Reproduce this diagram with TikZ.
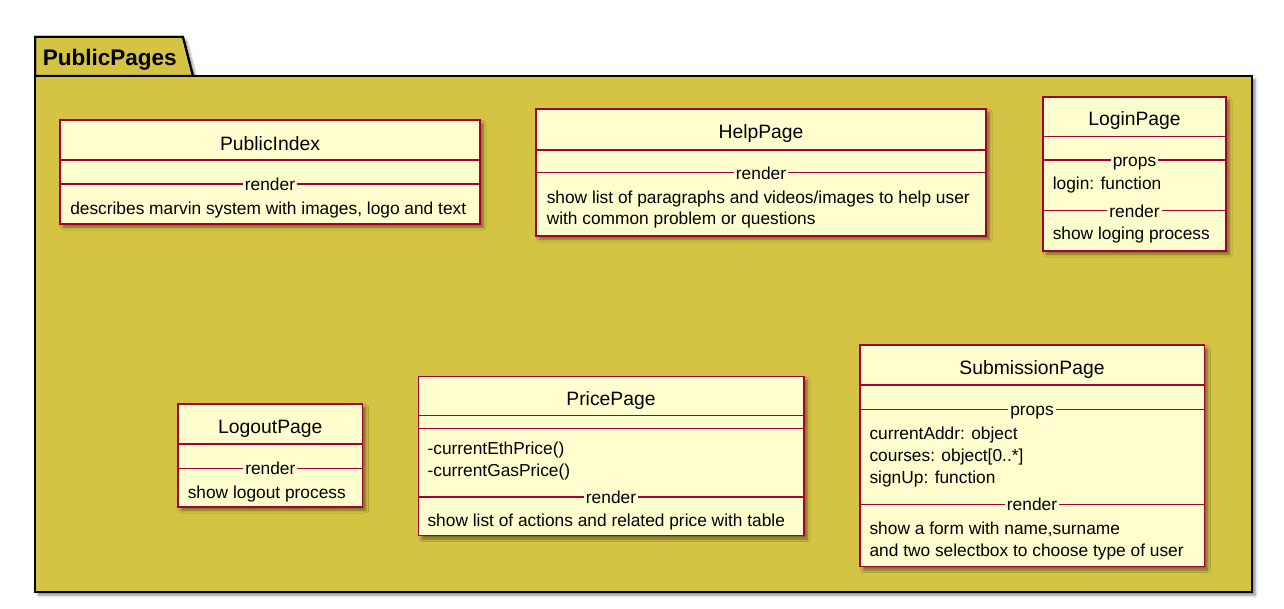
\documentclass[tikz,border=0pt]{standalone}
\usepackage{fontspec}
\setmainfont{Liberation Sans}
\usetikzlibrary{shadows.blur}
\definecolor{pkgfill}{RGB}{213,196,68}
\definecolor{boxfill}{RGB}{254,254,206}
\definecolor{boxline}{RGB}{168,0,54}
\tikzset{
  pkgshape/.style={draw=black, line width=1.5pt, fill=pkgfill,
    blur shadow={shadow xshift=2.5pt, shadow yshift=-2.5pt, shadow blur radius=2pt, shadow opacity=45}},
  classshape/.style={draw=boxline, line width=1.1pt, fill=boxfill,
    blur shadow={shadow xshift=2.5pt, shadow yshift=-2.5pt, shadow blur radius=2pt, shadow opacity=45}},
  rule/.style={draw=boxline, line width=1.1pt},
  thinrule/.style={draw=boxline, line width=1pt},
  titletext/.style={inner sep=0pt, yshift=-3.4pt, font=\fontsize{14.5}{17}\selectfont, text height=0.72em, text depth=0.2em},
  bodytext/.style={inner sep=0pt, anchor=west, yshift=-2.25pt, font=\fontsize{13}{15}\selectfont, text height=0.72em, text depth=0.2em},
  seplabel/.style={inner xsep=1.5pt, inner ysep=0pt, yshift=-2.25pt, fill=boxfill, font=\fontsize{13}{15}\selectfont, text height=0.72em, text depth=0.2em},
  pkglabel/.style={inner sep=0pt, anchor=west, yshift=-3.75pt, font=\bfseries\fontsize{16.9}{19}\selectfont, text height=0.72em, text depth=0.2em}
}
\begin{document}
\begin{tikzpicture}[x=0.75pt, y=-0.75pt]
\useasboundingbox (0,0) rectangle (1284,609);
% package
\coordinate (pkgnw) at (35,76);
\coordinate (pkgse) at (1252,592);
\path[pkgshape] (35,76) -- (35,37) -- (183,37) -- (193,76) -- cycle;
\path[pkgshape] (pkgnw) rectangle (pkgse);
\draw[line width=1.5pt] (35,76) -- (35,37) -- (183,37) -- (193,76);
\node[pkglabel] (pkgname) at (42.5,57) {PublicPages};

% PublicIndex
\coordinate (pinw) at (60,120); \coordinate (pise) at (480,224);
\path[classshape] (pinw) rectangle (pise);
\node[titletext] (pititle) at (270,142.5) {PublicIndex};
\draw[rule] (60,160) -- (480,160);
\draw[thinrule] (60,184) -- (480,184);
\node[seplabel] (pirender) at (270,184) {render};
\node[bodytext] (pit1) at (70,208) {describes marvin system with images, logo and text};

% HelpPage
\coordinate (hpnw) at (536,109); \coordinate (hpse) at (986,236);
\path[classshape] (hpnw) rectangle (hpse);
\node[titletext] (hptitle) at (761,131) {HelpPage};
\draw[rule] (536,150) -- (986,150);
\draw[thinrule] (536,172.7) -- (986,172.7);
\node[seplabel] (hprender) at (761,172.7) {render};
\node[bodytext] (hpt1) at (546.5,197.5) {show list of paragraphs and videos/images to help user};
\node[bodytext] (hpt2) at (546.5,218.5) {with common problem or questions};

% LoginPage
\coordinate (lpnw) at (1043,97); \coordinate (lpse) at (1226,251);
\path[classshape] (lpnw) rectangle (lpse);
\node[titletext] (lptitle) at (1134.5,117.5) {LoginPage};
\draw[rule] (1043,136.7) -- (1226,136.7);
\draw[thinrule] (1043,160) -- (1226,160);
\node[seplabel] (lpprops) at (1134.5,160) {props};
\node[bodytext] (lpt1) at (1052.5,183.3) {login: function};
\draw[thinrule] (1043,210.7) -- (1226,210.7);
\node[seplabel] (lprender) at (1134.5,210.7) {render};
\node[bodytext] (lpt2) at (1052.5,233.3) {show loging process};

% LogoutPage
\coordinate (lonw) at (178,404); \coordinate (lose) at (362.5,507);
\path[classshape] (lonw) rectangle (lose);
\node[titletext] (lotitle) at (270.3,425) {LogoutPage};
\draw[rule] (178,444) -- (362.5,444);
\draw[thinrule] (178,468.3) -- (362.5,468.3);
\node[seplabel] (lorender) at (270.3,468.3) {render};
\node[bodytext] (lot1) at (187.5,491.7) {show logout process};

% PricePage
\coordinate (prnw) at (418.3,376.7); \coordinate (prse) at (804,535.7);
\path[classshape] (prnw) rectangle (prse);
\node[titletext] (prtitle) at (611,397.3) {PricePage};
\draw[rule] (418.3,415.7) -- (804,415.7);
\draw[rule] (418.3,428.3) -- (804,428.3);
\node[bodytext] (prt1) at (427.3,448.5) {-currentEthPrice()};
\node[bodytext] (prt2) at (427.3,470) {-currentGasPrice()};
\draw[thinrule] (418.3,497) -- (804,497);
\node[seplabel] (prrender) at (611,497) {render};
\node[bodytext] (prt3) at (427.3,520) {show list of actions and related price with table};

% SubmissionPage
\coordinate (spnw) at (860,345); \coordinate (spse) at (1204.3,566.7);
\path[classshape] (spnw) rectangle (spse);
\node[titletext] (sptitle) at (1032,366.7) {SubmissionPage};
\draw[rule] (860,385) -- (1204.3,385);
\draw[thinrule] (860,409.3) -- (1204.3,409.3);
\node[seplabel] (spprops) at (1032,409.3) {props};
\node[bodytext] (spt1) at (869.3,433.3) {currentAddr: object};
\node[bodytext] (spt2) at (869.3,455.5) {courses: object[0..*]};
\node[bodytext] (spt3) at (869.3,477) {signUp: function};
\draw[thinrule] (860,504.3) -- (1204.3,504.3);
\node[seplabel] (sprender) at (1032,504.3) {render};
\node[bodytext] (spt4) at (869.3,528.3) {show a form with name,surname};
\node[bodytext] (spt5) at (869.3,550) {and two selectbox to choose type of user};
\end{tikzpicture}
\end{document}
